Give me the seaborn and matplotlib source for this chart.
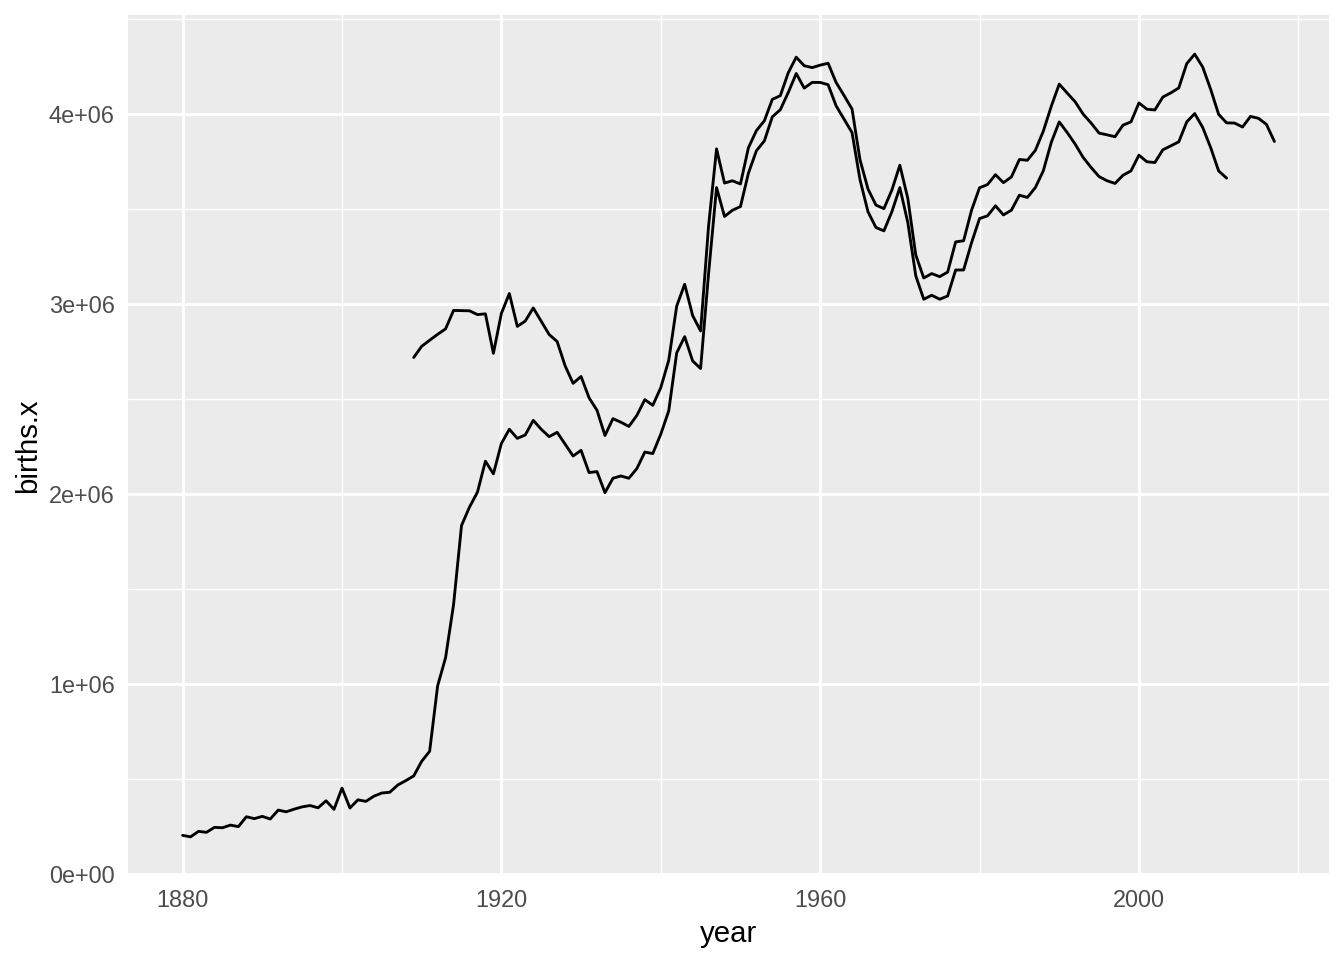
import numpy as np
import pandas as pd
import matplotlib
matplotlib.use("Agg")
import matplotlib.pyplot as plt
import seaborn as sns
from matplotlib.ticker import FixedLocator, FuncFormatter

# ---- data (millions of births) ----
years_ssa = list(range(1880, 2012))
births_ssa = [
    # 1880-1889
    0.201, 0.193, 0.222, 0.217, 0.243, 0.241, 0.255, 0.247, 0.299, 0.289,
    # 1890-1899
    0.301, 0.287, 0.334, 0.325, 0.339, 0.351, 0.358, 0.346, 0.383, 0.338,
    # 1900-1909
    0.450, 0.345, 0.388, 0.380, 0.407, 0.424, 0.428, 0.466, 0.489, 0.514,
    # 1910-1919
    0.591, 0.644, 0.988, 1.137, 1.416, 1.833, 1.930, 2.009, 2.172, 2.105,
    # 1920-1929
    2.265, 2.340, 2.292, 2.310, 2.387, 2.340, 2.301, 2.324, 2.261, 2.199,
    # 1930-1939
    2.229, 2.112, 2.117, 2.006, 2.082, 2.094, 2.082, 2.133, 2.220, 2.212,
    # 1940-1949
    2.314, 2.437, 2.742, 2.828, 2.700, 2.660, 3.160, 3.613, 3.461, 3.494,
    # 1950-1959
    3.513, 3.689, 3.807, 3.859, 3.986, 4.023, 4.114, 4.214, 4.137, 4.167,
    # 1960-1969
    4.167, 4.155, 4.044, 3.974, 3.903, 3.655, 3.486, 3.403, 3.385, 3.486,
    # 1970-1979
    3.613, 3.429, 3.148, 3.025, 3.046, 3.025, 3.042, 3.179, 3.179, 3.323,
    # 1980-1989
    3.450, 3.464, 3.517, 3.469, 3.494, 3.573, 3.561, 3.613, 3.701, 3.851,
    # 1990-1999
    3.959, 3.903, 3.842, 3.772, 3.719, 3.671, 3.649, 3.635, 3.678, 3.701,
    # 2000-2009
    3.784, 3.749, 3.745, 3.812, 3.833, 3.854, 3.959, 4.003, 3.930, 3.824,
    # 2010-2011
    3.701, 3.663,
]

years_cdc = list(range(1909, 2018))
births_cdc = [
    # 1909
    2.718,
    # 1910-1919
    2.777, 2.809, 2.840, 2.869, 2.966, 2.965, 2.964, 2.944, 2.948, 2.740,
    # 1920-1929
    2.950, 3.055, 2.882, 2.910, 2.979, 2.909, 2.839, 2.802, 2.674, 2.582,
    # 1930-1939
    2.618, 2.506, 2.440, 2.307, 2.396, 2.377, 2.355, 2.413, 2.496, 2.466,
    # 1940-1949
    2.559, 2.703, 2.989, 3.104, 2.939, 2.858, 3.411, 3.817, 3.637, 3.649,
    # 1950-1959
    3.632, 3.823, 3.913, 3.965, 4.078, 4.097, 4.218, 4.300, 4.255, 4.245,
    # 1960-1969
    4.258, 4.268, 4.167, 4.098, 4.027, 3.760, 3.606, 3.521, 3.502, 3.600,
    # 1970-1979
    3.731, 3.556, 3.258, 3.137, 3.160, 3.144, 3.168, 3.327, 3.333, 3.494,
    # 1980-1989
    3.612, 3.629, 3.681, 3.639, 3.669, 3.761, 3.757, 3.809, 3.910, 4.041,
    # 1990-1999
    4.158, 4.111, 4.065, 4.000, 3.953, 3.900, 3.891, 3.881, 3.942, 3.959,
    # 2000-2009
    4.059, 4.026, 4.022, 4.090, 4.112, 4.138, 4.266, 4.316, 4.248, 4.131,
    # 2010-2017
    3.999, 3.954, 3.953, 3.932, 3.988, 3.978, 3.946, 3.856,
]

x_ticks = [1880, 1920, 1960, 2000]
x_minor = [1900, 1940, 1980, 2020]
y_ticks = [0, 1e6, 2e6, 3e6, 4e6]
y_minor = [0.5e6, 1.5e6, 2.5e6, 3.5e6, 4.5e6]

df_ssa = pd.DataFrame({"year": years_ssa, "births.x": np.array(births_ssa) * 1e6})
df_cdc = pd.DataFrame({"year": years_cdc, "births.x": np.array(births_cdc) * 1e6})

# ---- style (ggplot2 theme_grey look) ----
sns.set_theme(style="darkgrid")
plt.rcParams["font.family"] = ["Liberation Sans", "DejaVu Sans"]

fig = plt.figure(figsize=(7, 5), dpi=192)
ax = fig.add_axes([128 / 1344, 1 - 876 / 960, (1329 - 128) / 1344, (876 - 15) / 960])
ax.set_facecolor("#EBEBEB")

lw = 1.07
sns.lineplot(data=df_ssa, x="year", y="births.x", color="black", linewidth=lw, ax=ax)
sns.lineplot(data=df_cdc, x="year", y="births.x", color="black", linewidth=lw, ax=ax)

# limits with ggplot-like 5% expansion
all_x = years_ssa + years_cdc
all_y = list(df_ssa["births.x"]) + list(df_cdc["births.x"])
xr = max(all_x) - min(all_x)
yr = max(all_y) - min(all_y)
ax.set_xlim(min(all_x) - 0.05 * xr, max(all_x) + 0.05 * xr)
ax.set_ylim(min(all_y) - 0.05 * yr, max(all_y) + 0.05 * yr)

ax.xaxis.set_major_locator(FixedLocator(x_ticks))
ax.xaxis.set_minor_locator(FixedLocator(x_minor))
ax.yaxis.set_major_locator(FixedLocator(y_ticks))
ax.yaxis.set_minor_locator(FixedLocator(y_minor))
ax.yaxis.set_major_formatter(FuncFormatter(lambda v, p: f"{v:.0e}"))
ax.xaxis.set_major_formatter(FuncFormatter(lambda v, p: f"{int(round(v))}"))

ax.grid(which="major", color="white", linewidth=1.07)
ax.grid(which="minor", color="white", linewidth=0.53)
ax.set_axisbelow(True)
for s in ax.spines.values():
    s.set_visible(False)

ax.tick_params(axis="both", which="major", length=2.75, width=1.07, color="#333333",
               labelsize=8.8, labelcolor="#4D4D4D", pad=2.2)
ax.tick_params(axis="both", which="minor", length=0)

ax.set_xlabel("year", fontsize=11, color="black", labelpad=3)
ax.set_ylabel("births.x", fontsize=11, color="black", labelpad=2.5)

fig.savefig("out.png", dpi=192, facecolor="white")
